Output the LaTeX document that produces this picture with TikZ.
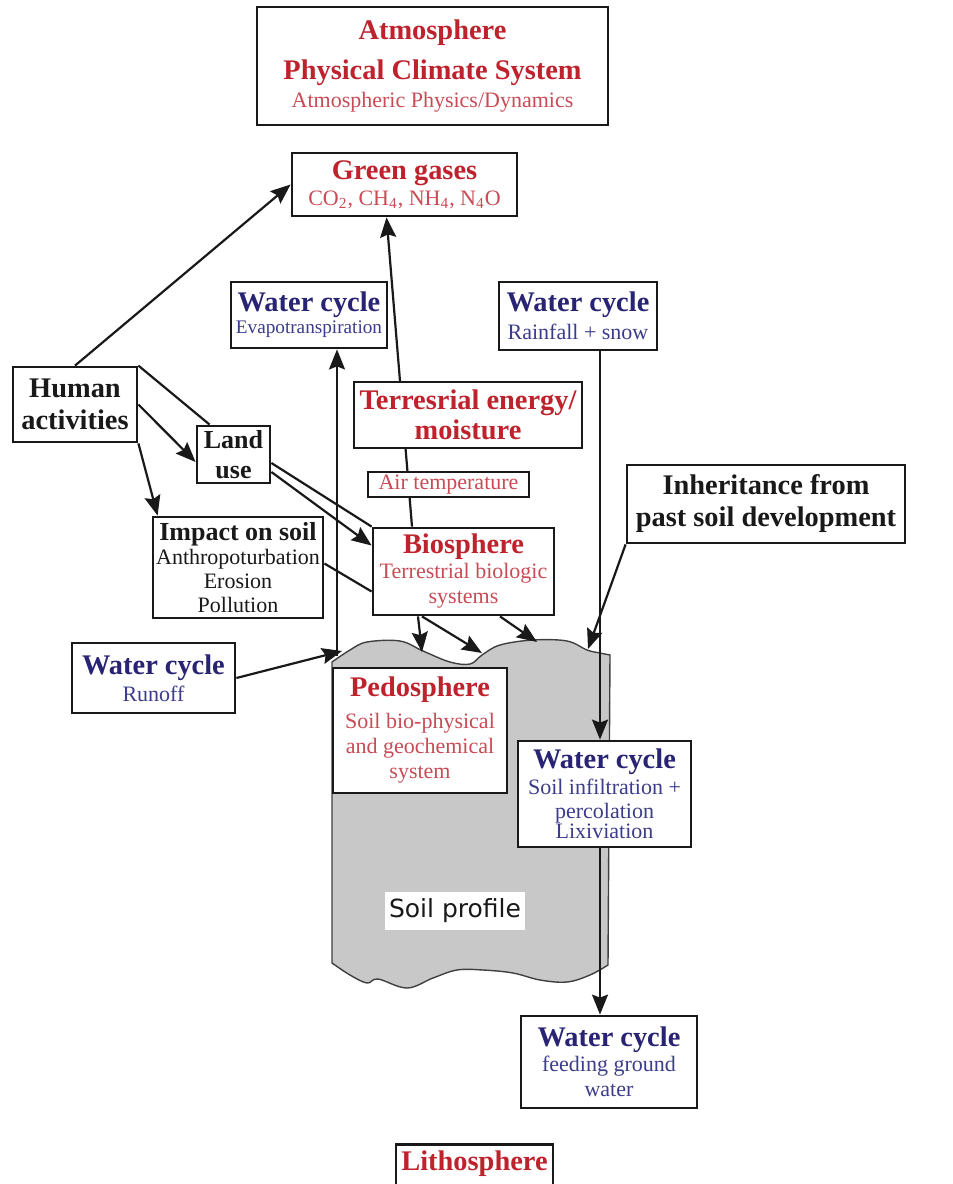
\documentclass[tikz,border=0pt]{standalone}
\usepackage{fontspec}
\setmainfont{Liberation Serif}
\newfontfamily\soilsans{DejaVu Sans}
\usetikzlibrary{arrows.meta,backgrounds}
\definecolor{sysred}{RGB}{190,35,45}
\definecolor{subred}{RGB}{200,75,85}
\definecolor{cycblue}{RGB}{40,35,115}
\definecolor{subblue}{RGB}{60,60,140}
\definecolor{inkblack}{RGB}{25,25,25}
\definecolor{soilgray}{RGB}{200,200,200}
\newcommand\hdfont{\fontsize{14.2}{16}\selectfont\bfseries}
\newcommand\wcyc{{\hdfont\color{cycblue}Water cycle}}

\begin{document}
\begin{tikzpicture}
  [x=0.5pt,y=-0.5pt,
   box/.style={draw=inkblack, line width=1.4pt, fill=white, inner sep=0pt, align=center},
   wh/.style 2 args={minimum width=#1*0.5pt, minimum height=#2*0.5pt},
   arr/.style={-{Stealth[length=10pt,width=8pt,inset=1.5pt]}, line width=1.1pt, draw=inkblack},
   link/.style={line width=1.1pt, draw=inkblack},
   soil/.style={fill=soilgray, draw=black!75, line width=0.7pt}]
  \useasboundingbox (0,0) rectangle (953,1184);

  % spheres and water cycle boxes
  \node[box,wh={351}{118},text=sysred,font=\fontsize{11}{14}\selectfont] (atm) at (432.5,66)
    {{\hdfont Atmosphere}\\[6pt]{\hdfont Physical Climate System}\\{\color{subred}Atmospheric Physics/Dynamics}};
  \node[box,wh={225}{63},text=sysred,font=\fontsize{11}{13}\selectfont] (gg) at (404.5,184.5)
    {{\hdfont Green gases}\\{\color{subred}CO\textsubscript{2}, CH\textsubscript{4}, NH\textsubscript{4}, N\textsubscript{4}O}};
  \node[box,wh={156}{66},text=subblue,font=\fontsize{9.6}{11}\selectfont] (evap) at (309,315)
    {\wcyc\\Evapotranspiration};
  \node[box,wh={158}{68},text=subblue,font=\fontsize{11}{14}\selectfont] (rain) at (578,316)
    {\wcyc\\Rainfall + snow};
  \node[box,wh={124}{75},text=inkblack,font=\fontsize{14.2}{16}\selectfont\bfseries] (human) at (75,404.5)
    {Human\\activities};
  \node[box,wh={228}{66},text=sysred,font=\fontsize{14.2}{15}\selectfont\bfseries] (terr) at (468,415)
    {Terresrial energy/\\moisture};
  \node[box,wh={73}{57},text=inkblack,font=\fontsize{13}{15}\selectfont\bfseries] (land) at (233.5,454.5)
    {Land\\use};
  \node[box,wh={161}{25},text=subred,font=\fontsize{11}{13}\selectfont] (air) at (448.5,484.5)
    {Air temperature};
  \node[box,wh={278}{78},text=inkblack,font=\fontsize{14.2}{16}\selectfont\bfseries] (inh) at (766,504)
    {Inheritance from\\past soil development};
  \node[box,wh={170}{101},text=inkblack,font=\fontsize{11}{12}\selectfont] (impact) at (238,567.5)
    {{\fontsize{13}{15}\selectfont\bfseries Impact on soil}\\Anthropoturbation\\Erosion\\Pollution};
  \node[box,wh={181}{87},text=subred,font=\fontsize{11}{12.5}\selectfont] (bio) at (463.5,571.5)
    {{\hdfont\color{sysred}Biosphere}\\Terrestrial biologic\\systems};
  \node[box,wh={163}{70},text=subblue,font=\fontsize{11}{13.5}\selectfont] (runoff) at (153.5,678)
    {\wcyc\\Runoff};
  \node[box,wh={174}{125},text=subred,font=\fontsize{11}{12.5}\selectfont] (pedo) at (420,730.5)
    {{\hdfont\color{sysred}Pedosphere}\\[3.5pt]Soil bio-physical\\and geochemical\\system};
  \node[box,wh={173}{106},text=subblue,font=\fontsize{11}{12}\selectfont] (infil) at (604.5,794)
    {\wcyc\\[1pt]Soil infiltration +\\percolation\\[-2pt]Lixiviation};
  \node[fill=white,inner sep=0pt,wh={140}{38},font=\soilsans\fontsize{12.5}{14}\selectfont,text=inkblack] (soillbl) at (455,911)
    {Soil profile};
  \node[box,wh={176}{92},text=subblue,font=\fontsize{11}{12.5}\selectfont] (feed) at (609,1062)
    {\wcyc\\feeding ground\\water};
  \node[box,anchor=north,minimum width=157*0.5pt,inner ysep=3pt,text depth=30pt,text=sysred,font=\hdfont] (litho) at (474.5,1143)
    {Lithosphere};

  % points on the soil surface and on the box borders
  \coordinate (wline) at (600,0);
  \coordinate (sEvap) at (337,656);
  \coordinate (sRun) at (342,651);
  \coordinate (sA) at (422,652);
  \coordinate (sB) at (482,653);
  \coordinate (sC) at (537,642);
  \coordinate (sInh) at (588,649);
  \coordinate (bioTop) at ([xshift=-25.75pt]bio.north);
  \coordinate (ggBot) at ([xshift=-9pt]gg.south);
  \coordinate (landTop) at ([xshift=7pt]land.north west);
  \coordinate (landIn) at ([yshift=-3.75pt]land.west);
  \coordinate (impIn) at ([xshift=3pt]impact.north west);
  \coordinate (landOutA) at ([yshift=-4.25pt]land.east);
  \coordinate (landOutB) at ([yshift=-8.75pt]land.east);
  \coordinate (bioInB) at ([yshift=13pt]bio.west);
  \coordinate (impOut) at ([yshift=2pt]impact.east);
  \coordinate (bioInC) at ([yshift=-10pt]bio.west);
  \coordinate (bioA) at ([xshift=-22.75pt]bio.south);
  \coordinate (bioB) at ([xshift=-20.75pt]bio.south);
  \coordinate (bioC) at ([xshift=18.25pt]bio.south);

  \begin{pgfonlayer}{background}
    % soil profile
    \filldraw[soil] plot[smooth,tension=.6] coordinates {(332,662) (350,650) (367,642) (400,641) (423,651)
        (450,662) (470,664) (482,655) (500,645) (533,640) (567,641) (587,650) (600,653) (610,655)}
      -- plot[smooth,tension=.6] coordinates {(608,965) (590,975) (567,982) (540,980) (513,973) (483,970)
        (457,970) (433,978) (407,988) (378,979) (367,983) (350,975) (332,963)}
      -- cycle;

    \foreach \from/\to in {human.north/gg.west, human.east/landIn, human.south east/impIn,
        landOutB/bioInB, bioTop/ggBot, runoff.east/sRun, inh.south west/sInh,
        bioA/sA, bioB/sB, bioC/sC}
      \draw[arr] (\from) -- (\to);
    \foreach \from/\to in {human.north east/landTop, landOutA/bio.north west, impOut/bioInC}
      \draw[link] (\from) -- (\to);
    \draw[arr] (sEvap) -- (evap.south -| sEvap);
    \draw[arr] (rain.south -| wline) -- (infil.north -| wline);
    \draw[arr] (infil.south -| wline) -- (feed.north -| wline);
  \end{pgfonlayer}
\end{tikzpicture}
\end{document}
